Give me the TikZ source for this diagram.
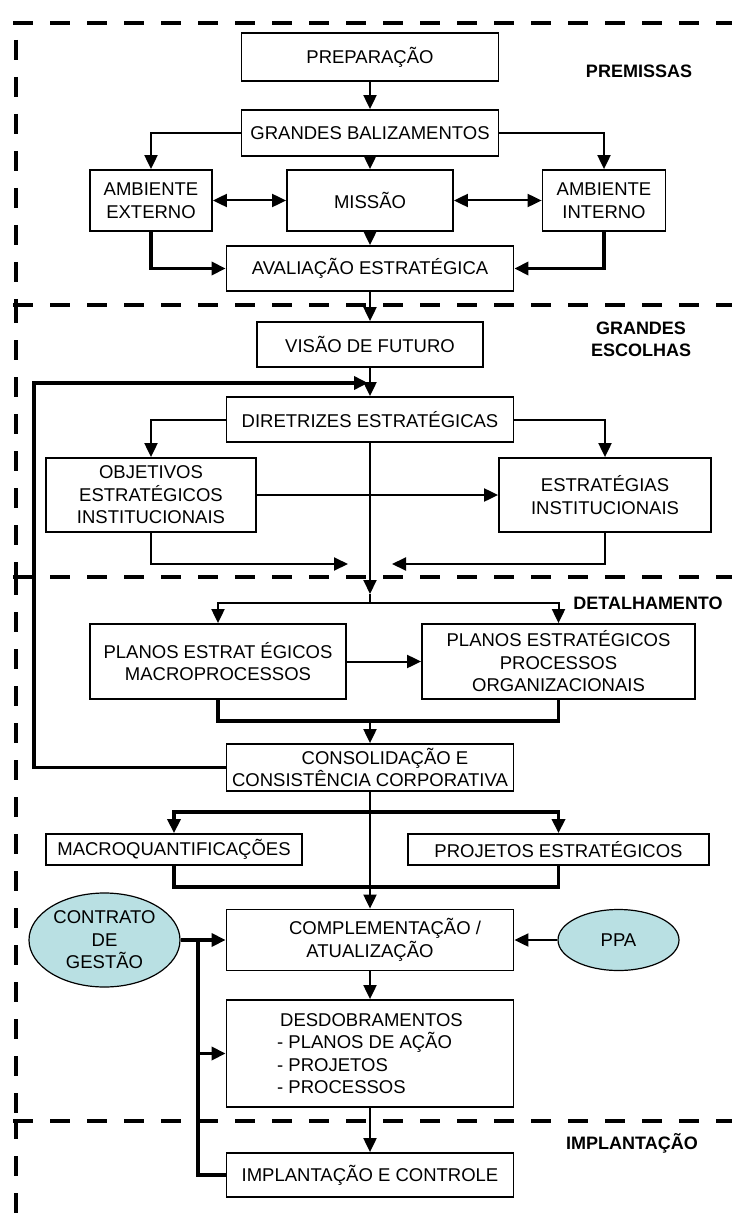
\documentclass[tikz,border=0pt]{standalone}
\usepackage{fontspec}
\setmainfont{Liberation Sans}
\usetikzlibrary{arrows.meta,shapes.geometric}
\definecolor{ovalfill}{HTML}{B9E0E3}

\begin{document}
\begin{tikzpicture}[x=1pt,y=-1pt,
  every node/.style={font=\fontsize{18.5}{22.5}\selectfont},
  box/.style={draw, line width=1.8pt, fill=white, inner sep=0pt, align=center},
  oval/.style={ellipse, draw, line width=1.2pt, fill=ovalfill, inner sep=0pt, align=center},
  tag/.style={font=\fontsize{18}{22}\selectfont\bfseries, align=center},
  tip/.style={-{Triangle[length=14pt,width=13pt]}},
  link/.style={line width=2pt, tip},
  twoway/.style={line width=2pt, {Triangle[length=14pt,width=13pt]}-{Triangle[length=14pt,width=13pt]}},
  plain/.style={line width=2pt},
  heavy/.style={line width=3.5pt},
  heavylink/.style={heavy, tip},
  sect/.style={line width=4.5pt, dash pattern=on 20pt off 17pt},
]
\useasboundingbox (0,0) rectangle (732,1222);

% section frames (top and left sides)
\draw[sect] (13,23) -- (732,23);
\draw[sect] (16,40) -- (16,305);
\draw[sect] (13,305) -- (732,305);
\draw[sect] (16,303) -- (16,577);
\draw[sect] (13,577) -- (732,577);
\draw[sect] (16,575) -- (16,1121);
\draw[sect] (13,1121) -- (732,1121);
\draw[sect] (16,1119) -- (16,1215);

% section titles
\node[tag] (tPrem) at (639,71) {PREMISSAS};
\node[tag] (tGrand) at (641,339) {GRANDES\\ESCOLHAS};
\node[tag] (tDet) at (648,603) {DETALHAMENTO};
\node[tag] (tImpl) at (632,1143) {IMPLANTAÇÃO};

% premissas
\node[box, minimum width=257pt, minimum height=48pt] (prep) at (370,57) {PREPARAÇÃO};
\node[box, minimum width=257pt, minimum height=46pt] (gb) at (370,133) {GRANDES BALIZAMENTOS};
\node[box, minimum width=122pt, minimum height=61pt] (ext) at (151,200.5) {AMBIENTE\\EXTERNO};
\node[box, minimum width=166pt, minimum height=61pt] (mis) at (370,200.5) {MISSÃO};
\node[box, minimum width=123pt, minimum height=61pt] (int) at (604,200.5) {AMBIENTE\\INTERNO};
\node[box, minimum width=287pt, minimum height=45pt] (aval) at (370,268.5) {AVALIAÇÃO ESTRATÉGICA};

% grandes escolhas
\node[box, minimum width=226pt, minimum height=45pt] (vis) at (370,344.5) {VISÃO DE FUTURO};
\node[box, minimum width=287pt, minimum height=45pt] (dir) at (370,419.5) {DIRETRIZES ESTRATÉGICAS};
\node[box, minimum width=210pt, minimum height=74pt] (obj) at (151,495) {OBJETIVOS\\ESTRATÉGICOS\\INSTITUCIONAIS};
\node[box, minimum width=212pt, minimum height=74pt] (est) at (605,495) {ESTRATÉGIAS\\INSTITUCIONAIS};

% detalhamento
\node[box, minimum width=256pt, minimum height=75pt] (pm) at (218,661.5) {PLANOS ESTRAT ÉGICOS\\MACROPROCESSOS};
\node[box, minimum width=273pt, minimum height=75pt] (pp) at (558.5,661.5) {PLANOS ESTRATÉGICOS\\PROCESSOS\\ORGANIZACIONAIS};
\node[box, minimum width=287pt, minimum height=47pt] (cons) at (370,767.5) {\hspace*{30pt}CONSOLIDAÇÃO E\\CONSISTÊNCIA CORPORATIVA};
\node[box, minimum width=256pt, minimum height=31pt] (mq) at (174,849.5) {MACROQUANTIFICAÇÕES};
\node[box, minimum width=301pt, minimum height=31pt] (pe) at (558.5,849.5) {PROJETOS ESTRATÉGICOS};
\node[box, minimum width=287pt, minimum height=61pt] (compl) at (370,940) {\hspace*{30pt}COMPLEMENTAÇÃO /\\ATUALIZAÇÃO};
\node[oval, minimum width=151pt, minimum height=94pt] (ct) at (104.5,940) {CONTRATO\\DE\\GESTÃO};
\node[oval, minimum width=121pt, minimum height=61pt] (ppa) at (618.5,940) {PPA};
\node[box, minimum width=287pt, minimum height=107pt, align=left] (desd) at (370,1053.5) {\hspace*{3pt}DESDOBRAMENTOS\\- PLANOS DE AÇÃO\\- PROJETOS\\- PROCESSOS};

% implantacao
\node[box, minimum width=287pt, minimum height=44pt] (impl) at (370,1175) {IMPLANTAÇÃO E CONTROLE};

% junction points
\coordinate (fbA) at (34,767.5);
\coordinate (fbB) at (34,383);
\coordinate (fbC) at (368,383);
\coordinate (mL) at (348,564);
\coordinate (mR) at (392,564);
\coordinate (dTip) at (370,594);
\coordinate (j1) at (370,603);
\coordinate (j2) at (370,721);
\coordinate (j3) at (370,812);
\coordinate (j4) at (370,887);
\coordinate (j5) at (198,940);
\coordinate (j6) at (198,1053.5);

% premissas connectors
\draw[link] (prep.south) -- (gb.north);
\draw[link] (gb.west) -| (ext.north);
\draw[link] (gb.east) -| (int.north);
\draw[link] (gb.south) -- (mis.north);
\draw[twoway] (ext.east) -- (mis.west);
\draw[twoway] (mis.east) -- (int.west);
\draw[link] (mis.south) -- (aval.north);
\draw[heavylink] (ext.south) |- (aval.west);
\draw[heavylink] (int.south) |- (aval.east);

% grandes escolhas connectors
\draw[link] (aval.south) -- (vis.north);
\draw[link] (vis.south) -- (dir.north);
\draw[heavylink] (cons.west) -- (fbA) -- (fbB) -- (fbC);
\draw[link] (dir.west) -| (obj.north);
\draw[link] (dir.east) -| (est.north);
\draw[link] (obj.east) -- (est.west);
\draw[link] (obj.south) |- (mL);
\draw[link] (est.south) |- (mR);
\draw[link] (dir.south) -- (dTip);
\draw[plain] (dTip) -- (j1);

% detalhamento connectors
\draw[link] (j1) -| (pm.north);
\draw[link] (j1) -| (pp.north);
\draw[link] (pm.east) -- (pp.west);
\draw[heavy] (pm.south) |- (j2) -| (pp.south);
\draw[link] (j2) -- (cons.north);
\draw[link] (cons.south) -- (compl.north);
\draw[heavylink] (j3) -| (mq.north);
\draw[heavylink] (j3) -| (pe.north);
\draw[heavy] (mq.south) |- (j4) -| (pe.south);
\draw[link] (ppa.west) -- (compl.east);
\draw[heavylink] (ct.east) -- (compl.west);
\draw[heavylink] (j6) -- (desd.west);
\draw[heavy] (j5) |- (impl.west);
\draw[link] (compl.south) -- (desd.north);
\draw[link] (desd.south) -- (impl.north);
\end{tikzpicture}
\end{document}
